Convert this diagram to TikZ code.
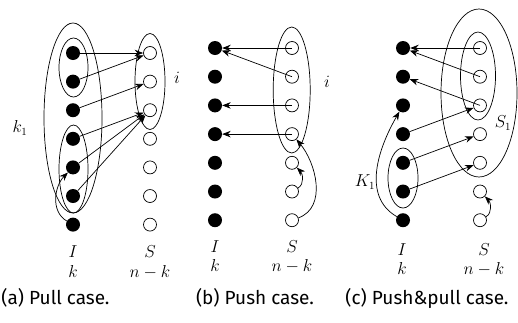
\documentclass[tikz,border=0pt]{standalone}
\usepackage{fontspec}
\newfontfamily\capfont{Fira Sans}
\usetikzlibrary{arrows.meta}
\begin{document}
\begin{tikzpicture}[x=1pt,y=-1pt,
  filled/.style={circle,fill=black,minimum size=14pt,inner sep=0pt},
  hollow/.style={circle,draw,line width=0.7pt,minimum size=13pt,inner sep=0pt},
  arr/.style={line width=0.7pt,-{Stealth[length=8.5pt,width=6.5pt]}},
  grp/.style={line width=0.7pt},
  lbl/.style={font=\fontsize{16}{19}\selectfont, inner sep=0pt},
  col/.style={font=\fontsize{16.5}{19.5}\selectfont, inner sep=0pt, align=center, anchor=north},
  captext/.style={font=\capfont\fontsize{19}{22}\selectfont, inner sep=0pt}]
\useasboundingbox (0,0) rectangle (518,322);
\foreach \i in {0,...,6} {
  \node[filled] (da\i) at (73, {53+28.6*\i}) {};
  \node[hollow] (sa\i) at (150, {53+28.6*\i}) {};
  \node[filled] (db\i) at (215, {48+28.7*\i}) {};
  \node[hollow] (sb\i) at (292, {48+28.7*\i}) {};
  \node[filled] (dc\i) at (403, {48+28.7*\i}) {};
  \node[hollow] (sc\i) at (480, {48+28.7*\i}) {};
}
% panel (a)
\draw[grp] (73,118) ellipse [x radius=29, y radius=95];
\draw[grp] (73.5,67.5) ellipse [x radius=14.5, y radius=29.5];
\draw[grp] (73.5,169) ellipse [x radius=14.5, y radius=44];
\draw[grp] (150,81.5) ellipse [x radius=15, y radius=48];
\draw[arr] (da0) -- (sa0);
\draw[arr] (da1) -- (sa0);
\draw[arr] (da2) -- (sa1);
\draw[arr] (da3) -- (sa2);
\draw[arr] (da4) -- (sa2);
\draw[arr] (da5) -- (sa2);
\draw[arr] (da6) to[out=150, in=225] (da4);
\node[lbl] (ka) at (20,128) {$k_1$};
\node[lbl] (ia) at (177,78) {$i$};
\node[col] (Ia) at (73,245.5) {$I$\\$k$};
\node[col] (Sa) at (150,245.5) {$S$\\$n-k$};
\node[captext] (capa) at (55.5,298) {(a) Pull case.};
% panel (b)
\draw[grp] (291.7,90) ellipse [x radius=18.5, y radius=63];
\draw[arr] (sb0.center) -- (db0);
\draw[arr] (sb1.center) -- (db0);
\draw[arr] (sb2.center) -- (db2);
\draw[arr] (sb3.center) -- (db3);
\draw[arr] (sb5) to[out=30, in=-45] (sb4);
\draw[arr] (sb6) to[out=20, in=-50] (sb3);
\node[lbl] (ib) at (327,82) {$i$};
\node[col] (Ib) at (215,240) {$I$\\$k$};
\node[col] (Sb) at (292,240) {$S$\\$n-k$};
\node[captext] (capb) at (255,298) {(b) Push case.};
% panel (c)
\draw[grp] (479,93) ellipse [x radius=38, y radius=84];
\draw[grp] (478,76) ellipse [x radius=17.5, y radius=44];
\draw[grp] (403,178) ellipse [x radius=15, y radius=30];
\draw[arr] (sc0.center) -- (dc0);
\draw[arr] (sc1.center) -- (dc0);
\draw[arr] (sc2.center) -- (dc1);
\draw[arr] (dc3) -- (sc2);
\draw[arr] (dc4) -- (sc3);
\draw[arr] (dc5) -- (sc4);
\draw[arr] (dc6) to[out=150, in=-120] (dc2);
\draw[arr] (sc6) to[out=30, in=-45] (sc5);
\node[lbl] (S1c) at (503,123) {$S_1$};
\node[lbl] (K1c) at (365,182) {$K_1$};
\node[col] (Ic) at (402,243) {$I$\\$k$};
\node[col] (Sc) at (484,243) {$S$\\$n-k$};
\node[captext] (capc) at (427,298) {(c) Push\&pull case.};
\end{tikzpicture}
\end{document}
